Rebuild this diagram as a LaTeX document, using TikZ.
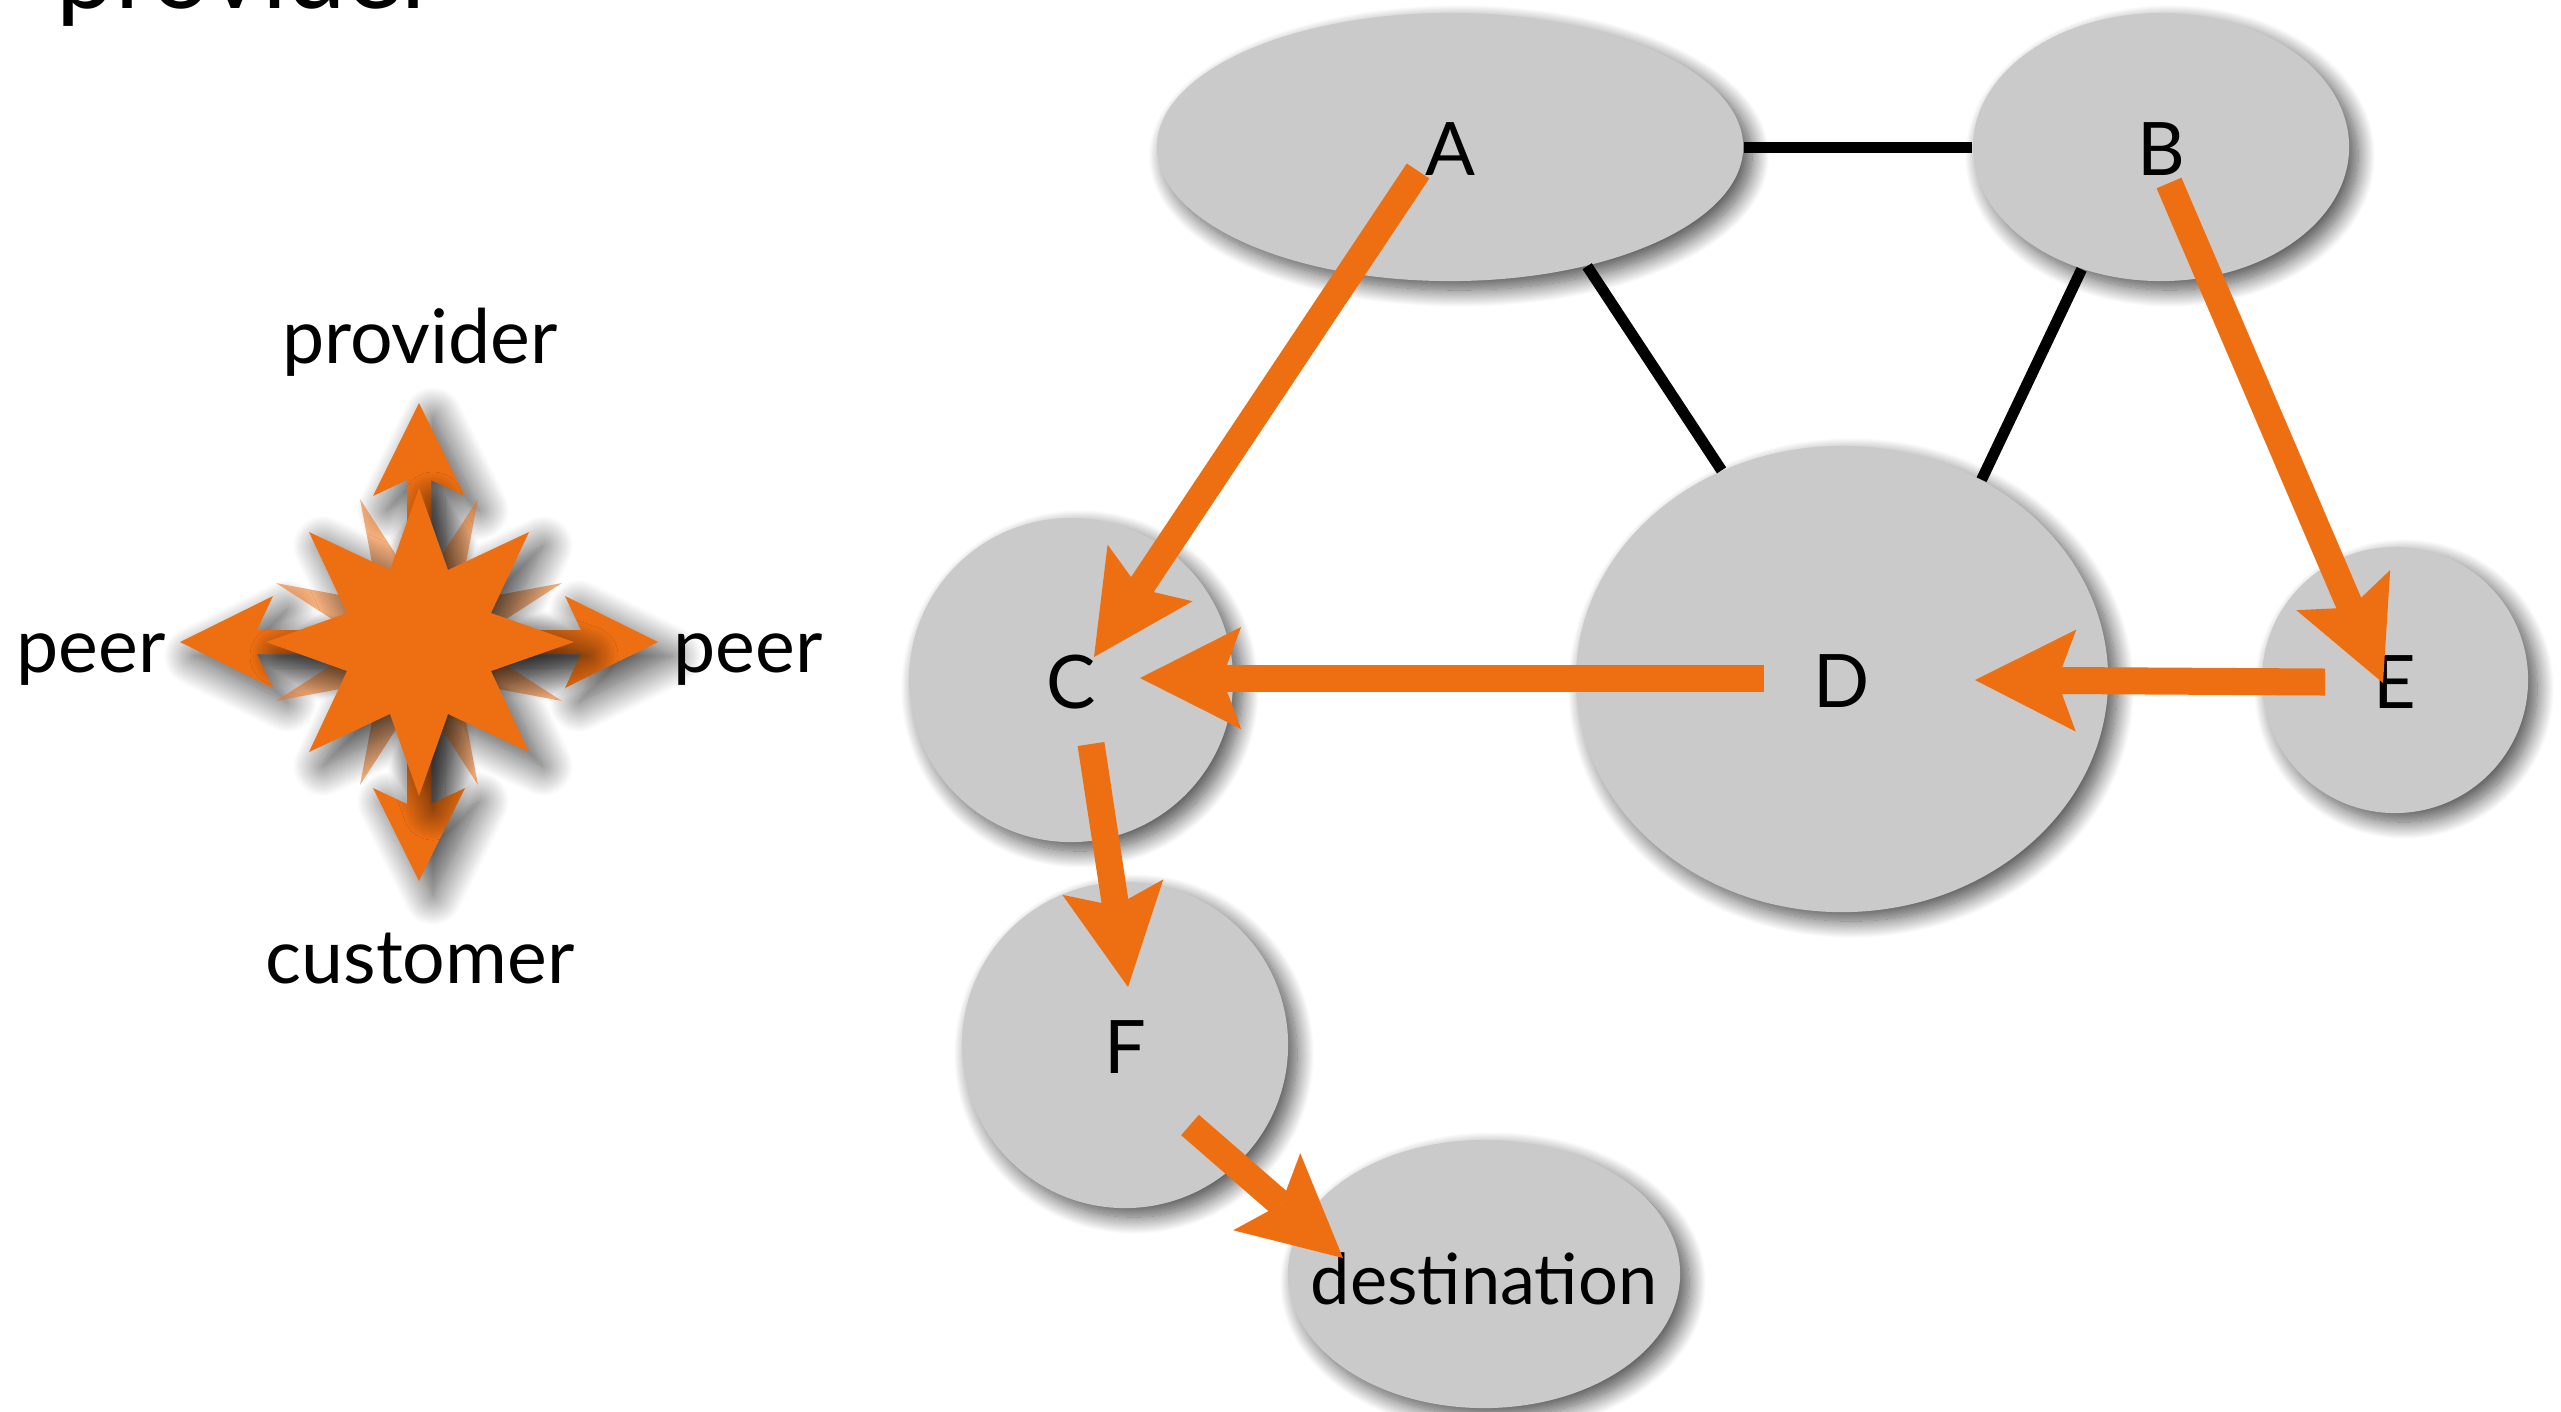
\documentclass[tikz,border=0pt]{standalone}
\usepackage{fontspec}
\setmainfont{Lato}
\usetikzlibrary{arrows.meta,shapes.geometric,shadows.blur}
\definecolor{asgray}{HTML}{CACACA}
\definecolor{routeorange}{HTML}{EE6F12}
\tikzset{
  as/.style={ellipse,fill=asgray,inner sep=0pt,font=\fontsize{21}{21}\selectfont,text height=16pt,text depth=0pt,
    blur shadow={shadow xshift=.09cm,shadow yshift=-.09cm,shadow blur radius=.17cm,shadow blur steps=20,shadow opacity=70}},
  peering/.style={line width=.11cm,black},
  route/.style={line width=.27cm,routeorange,-{Stealth[length=1.01cm,width=1.02cm,inset=.19cm,line width=0pt]}},
  compass/.style={fill=routeorange,
    blur shadow={shadow xshift=.14cm,shadow yshift=-.14cm,shadow blur radius=.3cm,shadow blur steps=30,shadow opacity=75}},
  relation/.style={font=\fontsize{21.4}{21.4}\selectfont}
}
\begin{document}
\begin{tikzpicture}[x=.01cm,y=-.01cm]
    \useasboundingbox (0,0) rectangle (2561,1411);

    \node[anchor=base west,inner sep=0pt,font=\fontsize{29.7}{29.7}\selectfont] (heading) at (56,8) {provider};

    % the compass on the left
    \coordinate (hub) at (419,642);
    \foreach \ang in {0,90,180,270} {
      \path[compass,shift={(hub)},rotate=\ang] (0,-239) -- (46,-146) -- (12,-162) -- (12,0)
        -- (-12,0) -- (-12,-162) -- (-46,-146) -- cycle;
    }
    \foreach \ang in {0,90,180,270} {
      \fill[routeorange,opacity=.55,shift={(hub)},rotate=\ang] (-59,-143) -- (-43,-58) -- (-10,-67) -- cycle;
      \fill[routeorange,opacity=.55,shift={(hub)},rotate=\ang] (59,-143) -- (43,-58) -- (10,-67) -- cycle;
    }
    \path[compass,shift={(hub)}] (0,-154) -- (29,-72) -- (110,-110) -- (72,-29) -- (155,0) -- (72,29)
      -- (110,110) -- (29,72) -- (0,154) -- (-29,72) -- (-110,110) -- (-72,29) -- (-153,0)
      -- (-72,-29) -- (-110,-110) -- (-29,-72) -- cycle;

    \node[relation] (provider) at (420,342) {provider};
    \node[relation] (customer) at (420,959) {customer};
    \node[relation] (peerl) at (91,660) {peer};
    \node[relation] (peerr) at (748,660) {peer};

    % the networks
    \node[as,minimum width=5.86cm,minimum height=2.68cm] (A) at (1450,147) {A};
    \node[as,minimum width=3.76cm,minimum height=2.68cm] (B) at (2161,147) {B};
    \node[as,minimum width=3.24cm,minimum height=3.24cm] (C) at (1071,680) {C};
    \node[as,minimum width=5.32cm,minimum height=4.66cm] (D) at (1842,679) {D};
    \node[as,minimum width=2.66cm,minimum height=2.66cm] (E) at (2395,680) {E};
    \node[as,minimum width=3.26cm,minimum height=3.26cm] (F) at (1125,1045) {F};
    \node[as,minimum width=3.92cm,minimum height=2.68cm] (dest) at (1484,1274) {};
    \node[relation,font=\fontsize{20}{20}\selectfont] (destlabel) at (1484,1279) {destination};

    \draw[peering] (A) -- (B);
    \draw[peering] (A.-41) -- (D.120.4);
    \draw[peering] (B.237.4) -- (D.55.7);

    \coordinate (Aout) at (1418,171);
    \coordinate (Cin) at (1094,657);
    \coordinate (Bout) at (2169,183);
    \coordinate (Ein) at (2383,683);
    \coordinate (Dout) at (1764,678);
    \coordinate (Cin2) at (1140,678);
    \coordinate (Eout) at (2325,682);
    \coordinate (Din) at (1975,680);
    \coordinate (Cout) at (1091,744);
    \coordinate (Fin) at (1128,987);
    \coordinate (Fout) at (1190,1125);
    \coordinate (destin) at (1343,1258);

    \draw[route] (Aout) -- (Cin);
    \draw[route] (Bout) -- (Ein);
    \draw[route] (Dout) -- (Cin2);
    \draw[route] (Eout) -- (Din);
    \draw[route] (Cout) -- (Fin);
    \draw[route] (Fout) -- (destin);
\end{tikzpicture}
\end{document}
